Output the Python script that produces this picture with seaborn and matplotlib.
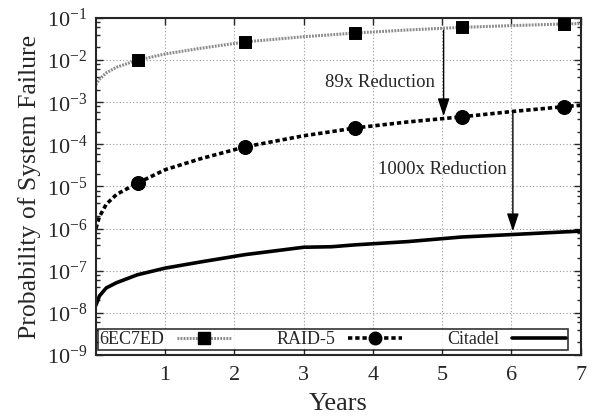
import numpy as np
import pandas as pd
import seaborn as sns
import matplotlib.pyplot as plt
from matplotlib.lines import Line2D
from matplotlib.ticker import LogLocator, NullFormatter

# curves (years -> probability)
years_curve = [0.0, 0.05, 0.15, 0.3, 0.6, 1.0, 1.5, 2.15, 3.0, 3.4, 3.74, 4.5, 5.28, 6.0, 6.74, 7.0]
ec_curve = [2.6e-3, 3.5e-3, 5.0e-3, 6.8e-3, 1.0e-2, 1.4e-2, 1.9e-2, 2.7e-2, 3.6e-2, 4.0e-2,
            4.4e-2, 5.2e-2, 6.0e-2, 6.6e-2, 7.2e-2, 7.4e-2]
raid_curve = [1.0e-6, 1.9e-6, 3.8e-6, 6.5e-6, 1.2e-5, 2.5e-5, 4.5e-5, 8.7e-5, 1.6e-4, 2.0e-4,
              2.45e-4, 3.4e-4, 4.5e-4, 6.0e-4, 7.8e-4, 8.5e-4]
citadel_curve = [1.5e-8, 2.5e-8, 3.9e-8, 5.2e-8, 8.0e-8, 1.15e-7, 1.6e-7, 2.4e-7, 3.6e-7, 3.7e-7,
                 4.1e-7, 4.9e-7, 6.3e-7, 7.2e-7, 8.3e-7, 8.7e-7]

# marker positions
years_mark = [0.61, 2.15, 3.74, 5.28, 6.76]
ec_mark = [1.0e-2, 2.7e-2, 4.4e-2, 6.0e-2, 7.2e-2]
raid_mark = [1.2e-5, 8.7e-5, 2.45e-4, 4.5e-4, 7.8e-4]

sns.set_style("ticks")
plt.rcParams['font.family'] = ['Liberation Serif', 'DejaVu Serif']
plt.rcParams['mathtext.default'] = 'regular'

fig = plt.figure(figsize=(5.92, 4.19), dpi=100)
ax = fig.add_axes([0.162, 0.153, 0.819, 0.804])

curves = pd.DataFrame({"Years": years_curve, "6EC7ED": ec_curve,
                       "RAID-5": raid_curve, "Citadel": citadel_curve})
marks = pd.DataFrame({"Years": years_mark, "6EC7ED": ec_mark, "RAID-5": raid_mark})

sns.lineplot(data=curves, x="Years", y="6EC7ED", ax=ax, color="#8a8a8a",
             linewidth=2.2, linestyle=(0, (0.6, 0.4)))
sns.lineplot(data=curves, x="Years", y="RAID-5", ax=ax, color="black",
             linewidth=2.6, linestyle=(0, (1.2, 0.8)))
sns.lineplot(data=curves, x="Years", y="Citadel", ax=ax, color="black", linewidth=2.6)
sns.scatterplot(data=marks, x="Years", y="6EC7ED", ax=ax, marker="s", s=75,
                color="black", edgecolor="black", zorder=5)
sns.scatterplot(data=marks, x="Years", y="RAID-5", ax=ax, marker="o", s=100,
                color="black", edgecolor="black", zorder=5)

ax.set_yscale("log")
ax.set_xlim(0, 7)
ax.set_ylim(1e-9, 1e-1)
ax.set_xticks([1, 2, 3, 4, 5, 6, 7])
ax.yaxis.set_major_locator(LogLocator(base=10, numticks=20))
ax.yaxis.set_minor_locator(LogLocator(base=10, subs=[2, 4, 6, 8], numticks=20))
ax.yaxis.set_minor_formatter(NullFormatter())
ax.tick_params(which="both", direction="in", top=True, right=True, labelsize=16, width=1)
ax.tick_params(which="major", length=5)
ax.tick_params(which="minor", length=3)
ax.tick_params(axis="x", pad=8)
ax.tick_params(axis="y", pad=6)
ax.grid(True, which="major", color="#999999", linestyle=(0, (1, 2)), linewidth=0.8)
for s in ax.spines.values():
    s.set_linewidth(1.5)

ax.set_xlabel("Years", fontsize=19, labelpad=6)
ax.set_ylabel("Probability of System Failure", fontsize=18.5, labelpad=4)

# reduction arrows
ax.annotate("", xy=(5.02, 4.0e-4), xytext=(5.02, 6.0e-2),
            arrowprops=dict(arrowstyle="-|>,head_length=0.6,head_width=0.2",
                            color="black", lw=1.0, mutation_scale=18))
ax.annotate("", xy=(6.02, 7.4e-7), xytext=(6.02, 6.3e-4),
            arrowprops=dict(arrowstyle="-|>,head_length=0.6,head_width=0.2",
                            color="black", lw=1.0, mutation_scale=18))
ax.text(4.1, 3.0e-3, "89x Reduction", fontsize=13.5, ha="center", va="center")
ax.text(5.0, 2.5e-5, "1000x Reduction", fontsize=13.5, ha="center", va="center")

handles = [
    Line2D([], [], color="#8a8a8a", linewidth=2.2, linestyle=(0, (0.6, 0.4)),
           marker="s", markersize=8, markerfacecolor="black", markeredgecolor="black"),
    Line2D([], [], color="black", linewidth=2.6, linestyle=(0, (1.2, 0.8)),
           marker="o", markersize=9, markerfacecolor="black"),
    Line2D([], [], color="black", linewidth=2.6),
]
leg = ax.legend(handles, ["6EC7ED", "RAID-5", "Citadel"], ncol=3, loc="lower left",
                bbox_to_anchor=(0.004, 0.015, 0.969, 0.06), mode="expand",
                markerfirst=False, fontsize=13, frameon=True, fancybox=False,
                handlelength=3.0, borderpad=0.1, borderaxespad=0.0,
                columnspacing=1.5, handletextpad=0.7)
leg.get_frame().set_edgecolor("black")
leg.get_frame().set_linewidth(1.2)

fig.savefig("out.png", dpi=100)
